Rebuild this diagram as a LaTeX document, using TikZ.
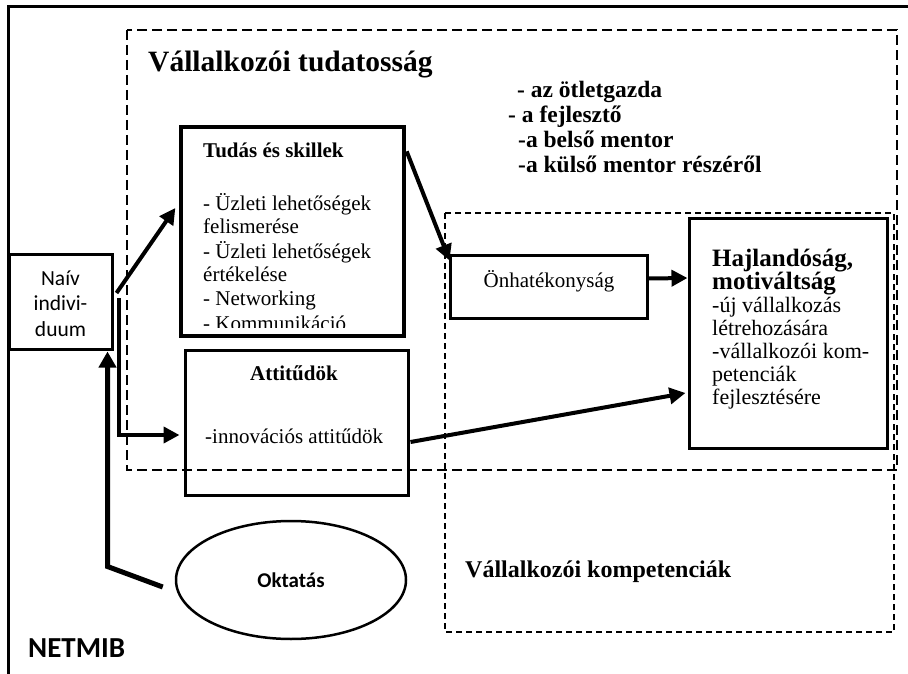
\documentclass[tikz,border=0pt]{standalone}
\usepackage{fontspec}
\setmainfont{Liberation Serif}
\newfontfamily\calibri{Carlito}
\usetikzlibrary{arrows.meta,shapes.geometric,calc}
\begin{document}
\begin{tikzpicture}[x=1pt,y=-1pt,
  box/.style={draw,rectangle,line width=3pt,inner sep=0pt},
  bigdash/.style={line width=2.8pt,dash pattern=on 10pt off 5pt},
  smalldash/.style={line width=2.6pt,dash pattern=on 6pt off 4pt},
  txt/.style={inner sep=0pt,anchor=base west},
  arr/.style={line width=4pt,-{Triangle[length=16pt,width=16pt]}},
  body/.style={font=\fontsize{21}{24}\selectfont}]
\useasboundingbox (0,0) rectangle (908,674);
% outer frame
\draw[line width=3pt,line join=miter] (8,674) -- (8,7) -- (908,7);
% dashed regions
\draw[bigdash] (127,30) rectangle (897,470);
\draw[smalldash] (445,213) rectangle (894,632);
% title and roles
\node[txt,font=\bfseries\fontsize{29.5}{30}\selectfont] (title) at (148,72) {Vállalkozói tudatosság};
\node[txt] (roles) at (508,98) {\parbox[t]{300pt}{\fontsize{23.5}{24.7}\selectfont\bfseries
 \hspace*{9pt}- az ötletgazda\\- a fejlesztő\\\hspace*{10pt}-a belső mentor\\\hspace*{10pt}-a külső mentor részéről}};
% boxes
\node[box,minimum width=103pt,minimum height=95pt] (naiv) at (60.5,301.5) {};
\node[box,line width=3.3pt,minimum width=223pt,minimum height=209pt] (tudas) at (292.5,231.5) {};
\node[box,minimum width=223pt,minimum height=145pt] (att) at (296.5,422.5) {};
\node[box,minimum width=197pt,minimum height=63pt] (onh) at (548.5,286.5) {};
\node[box,minimum width=198pt,minimum height=230pt] (hajl) at (788,333) {};
\node[draw,ellipse,line width=2.5pt,minimum width=230pt,minimum height=118pt,inner sep=0pt,
  font=\calibri\bfseries\fontsize{21}{24}\selectfont] (okt) at (291,580) {Oktatás};
% box texts
\node[inner sep=0pt,anchor=base] (naivT) at (60.5,285) {\parbox[t]{100pt}{\centering\calibri\fontsize{21.5}{25.5}\selectfont Naív\\indivi-\\duum}};
\node[txt,font=\bfseries\fontsize{21}{24}\selectfont] (tudasT) at (203,158) {Tudás és skillek};
\begin{scope}
\clip (182,140) rectangle (403,327);
\node[txt] (tudasL) at (203,210) {\parbox[t]{200pt}{\fontsize{21}{24}\selectfont - Üzleti lehetőségek\\felismerése\\- Üzleti lehetőségek\\értékelése\\- Networking\\- Kommunikáció}};
\end{scope}
\node[inner sep=0pt,anchor=base,font=\bfseries\fontsize{21}{24}\selectfont] (attT) at (294,380) {Attitűdök};
\node[txt,body] (attL) at (205,443) {-innovációs attitűdök};
\node[inner sep=0pt,anchor=base,body] (onhT) at (549,287) {Önhatékonyság};
\node[txt] (hajlT) at (712,266) {\parbox[t]{175pt}{\fontsize{22}{23}\selectfont{\fontsize{25}{23}\selectfont\bfseries Hajlandóság,\\motiváltság}\\-új vállalkozás\\létrehozására\\-vállalkozói kom-\\petenciák\\fejlesztésére}};
\node[txt,font=\bfseries\fontsize{24}{26}\selectfont] (kompT) at (465,577) {Vállalkozói kompetenciák};
\node[txt,font=\calibri\bfseries\fontsize{29}{30}\selectfont] (netmib) at (28,657) {NETMIB};
% connectors
\draw[arr] ($(naiv.east)+(3,-8.5)$) -- ($(tudas.west)+(-4,-23.5)$);
\draw[arr,line join=miter] ($(naiv.east)+(5.5,-3.5)$) |- ($(att.west)+(-4,12.5)$);
\coordinate (bend) at ($(naiv.south east)+(-6,216)$);
\draw[line width=5pt,line join=miter,-{Triangle[length=16pt,width=17pt]}] ($(okt.west)+(-12,7)$) -- (bend) -- ($(naiv.south east)+(-6,1)$);
\draw[arr] ($(tudas.north east)+(1,26)$) -- ($(onh.north west)+(1,7)$);
\draw[arr] ($(onh.east)+(0,-8)$) -- ($(hajl.west)+(0,-55)$);
\draw[arr] ($(att.east)+(1,19.5)$) -- ($(hajl.west)+(-2,60)$);
\end{tikzpicture}
\end{document}
